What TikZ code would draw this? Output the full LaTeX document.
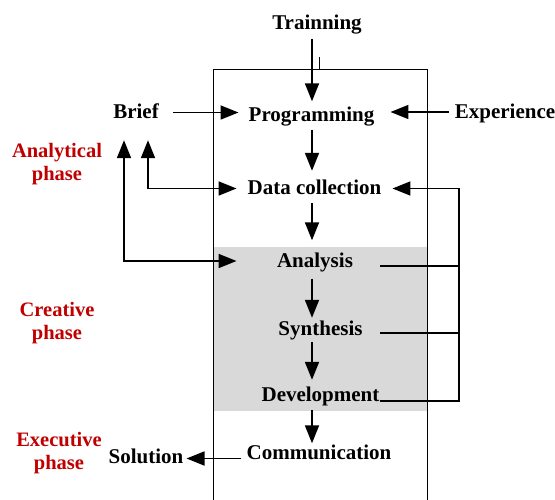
\documentclass[tikz,border=0pt]{standalone}
\usepackage{fontspec}
\setmainfont{Liberation Serif}
\usetikzlibrary{arrows.meta}
\definecolor{phred}{RGB}{192,0,0}
\definecolor{creativegray}{RGB}{217,217,217}
\begin{document}
\begin{tikzpicture}[x=1pt,y=-1pt,
  lbl/.style={font=\fontsize{21}{24}\selectfont\bfseries, inner xsep=3pt, inner ysep=3pt, text height=13pt, text depth=0pt},
  phase/.style={font=\fontsize{20.5}{23.5}\selectfont\bfseries, text=phred, align=center, inner sep=0pt},
  arr/.style={line width=1.8pt, -{Triangle[length=18pt,width=14pt]}},
  arrs/.style={line width=1.8pt, {Triangle[length=18pt,width=14pt]}-{Triangle[length=18pt,width=14pt]}},
  ln/.style={line width=1.8pt},
  frame/.style={line width=0.8pt}]
\useasboundingbox (0,0) rectangle (555,500);
% shaded creative area and frame
\fill[creativegray] (213,247) rectangle (427,411);
\draw[frame] (213,500) -- (213,69) -- (427,69) -- (427,500);
\draw[line width=0.6pt] (319,57) -- (319,69);
% nodes
\node[lbl] (train) at (317,23.5) {Trainning};
\node[lbl] (prog) at (311.5,115) {Programming};
\node[lbl] (brief) at (136,112.5) {Brief};
\node[lbl] (exp) at (505,112) {Experience};
\node[lbl] (data) at (314.5,188.5) {Data collection};
\node[lbl] (ana) at (315,261) {Analysis};
\node[lbl] (syn) at (320.5,328.5) {Synthesis};
\node[lbl] (dev) at (320.5,394.5) {Development};
\node[lbl] (comm) at (319,453) {Communication};
\node[lbl] (sol) at (146,456.5) {Solution};
\node[phase] (p1) at (57,164) {Analytical\\phase};
\node[phase] (p2) at (57,323) {Creative\\phase};
\node[phase] (p3) at (59,453) {Executive\\phase};
\coordinate (rx) at (459,0);
% main vertical flow
\draw[arr, shorten <=6pt, shorten >=4pt] (train.south -| 312,0) -- (prog.north -| 312,0);
\draw[arr, shorten <=5pt, shorten >=8pt] (prog.south -| 312,0) -- (data.north -| 312,0);
\draw[arr, shorten <=5pt, shorten >=11pt] (data.south -| 312,0) -- (ana.north -| 312,0);
\draw[arr, shorten <=8pt, shorten >=1pt] (ana.south -| 312,0) -- (syn.north -| 312,0);
\draw[arr, shorten <=4pt, shorten >=5pt] (syn.south -| 312,0) -- (dev.north -| 312,0);
\draw[arr, shorten <=6pt, shorten >=0pt] (dev.south -| 312,0) -- (comm.north -| 312,0);
% inputs to programming
\draw[arr, shorten <=11.5pt, shorten >=7pt] (brief.east) -- (prog.west |- brief.east);
\draw[arr, shorten <=3pt, shorten >=13pt] (exp.west) -- (prog.east |- exp.west);
% output
\coordinate (cs) at ([yshift=-5.5pt]comm.west);
\draw[arr, shorten <=2pt] (cs) -- (cs -| sol.east);
% left feedback to brief
\draw[arrs, shorten <=18pt, shorten >=8pt] ([xshift=12pt]brief.south) |- (data.west);
\draw[arrs, shorten <=18pt, shorten >=8pt] ([xshift=-12pt]brief.south) |- (ana.west -| data.west);
% right feedback to data collection
\coordinate (aR) at ([yshift=-5pt]ana.east);
\coordinate (sR) at ([yshift=-4.5pt]syn.east);
\coordinate (dR) at ([yshift=-6.5pt]dev.east);
\draw[arr, shorten >=8pt] (dR -| 380,0) -- (dR -| rx) -- (rx |- data.east) -- (data.east);
\draw[ln] (aR -| 380,0) -- (aR -| rx);
\draw[ln] (sR -| 380,0) -- (sR -| rx);
\end{tikzpicture}
\end{document}
